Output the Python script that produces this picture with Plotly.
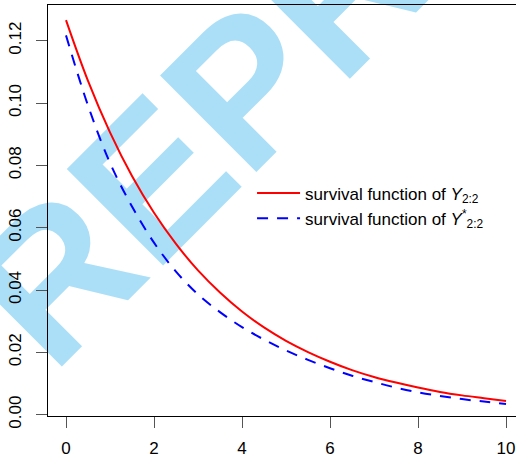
import plotly.graph_objects as go

# ---- data ----
x_vals = [0, 0.5, 1, 1.5, 2, 2.5, 3, 3.5, 4, 4.5, 5, 5.5, 6, 6.5, 7, 7.5, 8, 8.5, 9, 9.5, 10]
red_vals = [0.1266, 0.1071, 0.0906, 0.0766, 0.0648, 0.0548, 0.0463, 0.0392, 0.0331, 0.0280,
            0.0237, 0.0201, 0.0170, 0.0143, 0.0121, 0.0103, 0.0087, 0.0073, 0.0062, 0.0053, 0.0044]
blue_vals = [0.1217, 0.0992, 0.0808, 0.0668, 0.0552, 0.0459, 0.0386, 0.0329, 0.0281, 0.0241,
             0.0206, 0.0176, 0.0149, 0.0125, 0.0105, 0.0087, 0.0072, 0.0060, 0.0050, 0.0042, 0.0034]
x_ticks = [0, 2, 4, 6, 8, 10]
x_tick_text = ["0", "2", "4", "6", "8", "10"]
y_ticks = [0.00, 0.02, 0.04, 0.06, 0.08, 0.10, 0.12]
y_tick_text = ["0.00", "0.02", "0.04", "0.06", "0.08", "0.10", "0.12"]
series_names = ["survival function of <i>Y</i><sub>2:2</sub>",
                "survival function of <i>Y</i><sup>*</sup><sub>2:2</sub>"]
watermark_text = "REPRINT"

FONT = "Liberation Sans, Arial, Helvetica, sans-serif"

fig = go.Figure()
fig.add_trace(go.Scatter(x=x_vals, y=red_vals, mode="lines", name=series_names[0],
                         line=dict(color="#ff0000", width=2, shape="spline")))
fig.add_trace(go.Scatter(x=x_vals, y=blue_vals, mode="lines", name=series_names[1],
                         line=dict(color="#0000ff", width=2, dash="11px,9px", shape="spline")))

fig.add_shape(type="rect", xref="paper", yref="paper", x0=0.524, x1=0.544, y0=0.991, y1=1.001,
              layer="below", line=dict(width=0), fillcolor="rgba(0,0,0,0)",
              label=dict(text=watermark_text, textangle=-45, textposition="middle center",
                         font=dict(family=FONT, size=198, color="#abdff8", weight=700)))

axis_common = dict(showgrid=False, zeroline=False, showline=True, linecolor="black", linewidth=1,
                   ticks="outside", ticklen=11, tickcolor="#555", tickwidth=1, automargin=False,
                   tickfont=dict(family=FONT, size=17, color="black"))

fig.update_layout(
    width=516, height=457,
    margin=dict(l=48, r=0, t=5, b=41, pad=0, autoexpand=False),
    paper_bgcolor="white", plot_bgcolor="white",
    font=dict(family=FONT, size=17, color="black"),
    showlegend=True,
    legend=dict(x=0.436, y=0.585, xanchor="left", yanchor="top", bgcolor="rgba(0,0,0,0)",
                itemwidth=43,
                font=dict(family=FONT, size=17, color="black"), tracegroupgap=0),
    xaxis=dict(range=[-0.409, 10.227], tickvals=x_ticks, ticktext=x_tick_text, mirror=True,
               ticklabelstandoff=6, **axis_common),
    yaxis=dict(range=[-0.00042, 0.13145], tickvals=y_ticks, ticktext=y_tick_text, tickangle=-90,
               mirror=False, ticklabelstandoff=8, **axis_common),
)

fig.write_html("out.html", config={"displayModeBar": False},
               post_script="document.body.style.margin='0px';")
